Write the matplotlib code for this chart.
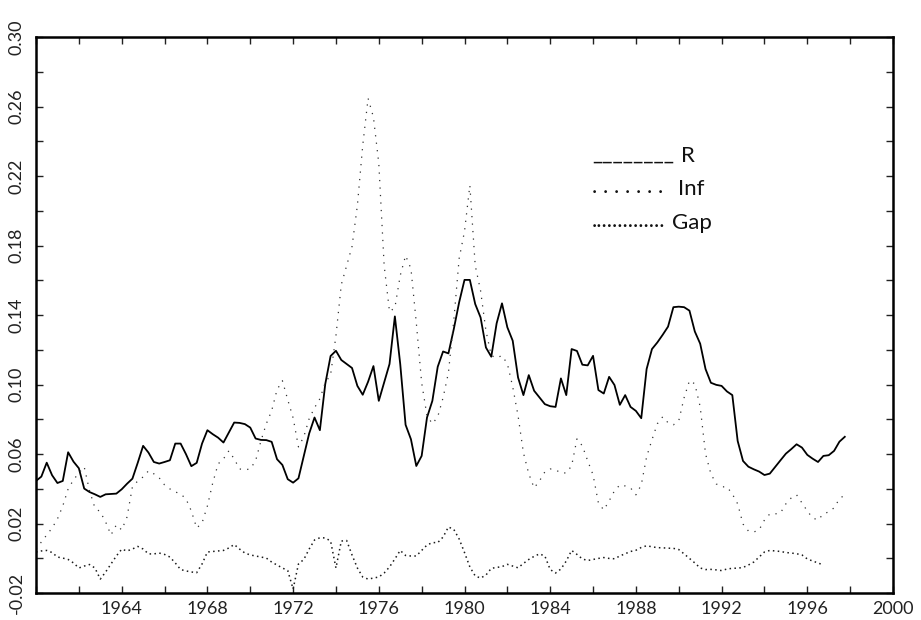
import numpy as np
import matplotlib
matplotlib.use("Agg")
import matplotlib.pyplot as plt
from matplotlib.ticker import FixedLocator

plt.rcParams['font.family'] = ['Lato', 'DejaVu Sans']

# quarterly series, first quarter of 1960 onwards
r_vals = [
    0.0445, 0.0470, 0.0550, 0.0478, 0.0433, 0.0445, 0.0610, 0.0556,
    0.0518, 0.0401, 0.0381, 0.0368, 0.0353, 0.0368, 0.0370, 0.0372,
    0.0397, 0.0429, 0.0458, 0.0550, 0.0647, 0.0608, 0.0554, 0.0545,
    0.0554, 0.0564, 0.0660, 0.0660, 0.0599, 0.0530, 0.0549, 0.0660,
    0.0737, 0.0714, 0.0694, 0.0666, 0.0723, 0.0781, 0.0779, 0.0772,
    0.0752, 0.0689, 0.0681, 0.0680, 0.0670, 0.0570, 0.0537, 0.0455,
    0.0435, 0.0460, 0.0589, 0.0718, 0.0810, 0.0737, 0.1002, 0.1164,
    0.1194, 0.1141, 0.1118, 0.1095, 0.0992, 0.0941, 0.1016, 0.1106,
    0.0906, 0.1012, 0.1118, 0.1392, 0.1118, 0.0768, 0.0685, 0.0531,
    0.0589, 0.0810, 0.0906, 0.1102, 0.1190, 0.1179, 0.1319, 0.1473,
    0.1602, 0.1602, 0.1463, 0.1386, 0.1213, 0.1160, 0.1352, 0.1467,
    0.1329, 0.1252, 0.1040, 0.0939, 0.1054, 0.0964, 0.0925, 0.0887,
    0.0875, 0.0871, 0.1035, 0.0939, 0.1204, 0.1193, 0.1114, 0.1110,
    0.1165, 0.0968, 0.0948, 0.1044, 0.0997, 0.0883, 0.0939, 0.0871,
    0.0848, 0.0806, 0.1089, 0.1204, 0.1242, 0.1286, 0.1333, 0.1445,
    0.1448, 0.1445, 0.1425, 0.1305, 0.1235, 0.1089, 0.1010, 0.0998,
    0.0992, 0.0960, 0.0939, 0.0675, 0.0560, 0.0527, 0.0512, 0.0499,
    0.0479, 0.0487, 0.0526, 0.0564, 0.0602, 0.0628, 0.0656, 0.0637,
    0.0595, 0.0573, 0.0554, 0.0589, 0.0593, 0.0618, 0.0671, 0.0699,
]

inf_vals = [
    0.0053, 0.0094, 0.0134, 0.0174, 0.0226, 0.0301, 0.0399, 0.0451,
    0.0491, 0.0526, 0.0388, 0.0290, 0.0267, 0.0209, 0.0134, 0.0192,
    0.0163, 0.0238, 0.0411, 0.0445, 0.0468, 0.0503, 0.0486, 0.0463,
    0.0422, 0.0399, 0.0382, 0.0370, 0.0342, 0.0272, 0.0174, 0.0203,
    0.0301, 0.0434, 0.0543, 0.0572, 0.0618, 0.0572, 0.0514, 0.0509,
    0.0514, 0.0561, 0.0676, 0.0774, 0.0849, 0.0970, 0.1022, 0.0912,
    0.0808, 0.0641, 0.0699, 0.0803, 0.0866, 0.0918, 0.1010, 0.1056,
    0.1281, 0.1575, 0.1685, 0.1794, 0.2030, 0.2376, 0.2647, 0.2538,
    0.2272, 0.1685, 0.1419, 0.1442, 0.1627, 0.1742, 0.1667, 0.1356,
    0.1010, 0.0820, 0.0774, 0.0814, 0.0924, 0.1068, 0.1368, 0.1725,
    0.1881, 0.2146, 0.1685, 0.1540, 0.1310, 0.1166, 0.1154, 0.1166,
    0.1120, 0.0987, 0.0820, 0.0607, 0.0486, 0.0405, 0.0445, 0.0497,
    0.0514, 0.0509, 0.0491, 0.0491, 0.0532, 0.0687, 0.0647, 0.0561,
    0.0480, 0.0318, 0.0278, 0.0330, 0.0388, 0.0422, 0.0416, 0.0405,
    0.0365, 0.0422, 0.0584, 0.0682, 0.0774, 0.0814, 0.0780, 0.0768,
    0.0791, 0.0924, 0.1022, 0.1004, 0.0872, 0.0601, 0.0486, 0.0428,
    0.0411, 0.0411, 0.0370, 0.0313, 0.0197, 0.0157, 0.0151, 0.0163,
    0.0220, 0.0255, 0.0255, 0.0261, 0.0313, 0.0347, 0.0365, 0.0318,
    0.0272, 0.0232, 0.0220, 0.0255, 0.0267, 0.0290, 0.0342, 0.0365,
]

gap_vals = [
    0.0036, 0.0042, 0.0045, 0.0033, 0.0007, 0.0001, -0.0007, -0.0027,
    -0.0056, -0.0045, -0.0036, -0.0056, -0.0120, -0.0079, -0.0033, 0.0013,
    0.0052, 0.0042, 0.0053, 0.0068, 0.0053, 0.0025, 0.0025, 0.0030,
    0.0022, 0.0007, -0.0027, -0.0065, -0.0073, -0.0079, -0.0083, -0.0033,
    0.0036, 0.0039, 0.0042, 0.0045, 0.0059, 0.0079, 0.0053, 0.0030,
    0.0019, 0.0013, 0.0007, 0.0001, -0.0022, -0.0039, -0.0056, -0.0071,
    -0.0177, -0.0033, -0.0007, 0.0053, 0.0105, 0.0118, 0.0117, 0.0099,
    -0.0056, 0.0099, 0.0102, 0.0019, -0.0056, -0.0108, -0.0120, -0.0114,
    -0.0108, -0.0085, -0.0050, -0.0004, 0.0045, 0.0016, 0.0013, 0.0013,
    0.0045, 0.0076, 0.0090, 0.0090, 0.0122, 0.0180, 0.0166, 0.0111,
    0.0033, -0.0050, -0.0102, -0.0114, -0.0097, -0.0058, -0.0053, -0.0048,
    -0.0035, -0.0045, -0.0055, -0.0030, -0.0007, 0.0011, 0.0025, 0.0013,
    -0.0065, -0.0085, -0.0062, -0.0016, 0.0045, 0.0022, -0.0004, -0.0013,
    -0.0007, -0.0001, 0.0004, -0.0001, -0.0003, 0.0013, 0.0026, 0.0039,
    0.0046, 0.0062, 0.0072, 0.0066, 0.0061, 0.0060, 0.0058, 0.0057,
    0.0050, 0.0025, -0.0001, -0.0027, -0.0056, -0.0065, -0.0064, -0.0067,
    -0.0071, -0.0062, -0.0058, -0.0057, -0.0053, -0.0039, -0.0022, 0.0007,
    0.0036, 0.0045, 0.0042, 0.0039, 0.0033, 0.0030, 0.0026, 0.0019,
    -0.0004, -0.0016, -0.0027, -0.0039,
]

start_year = 1960
x_labels = ['1964', '1968', '1972', '1976', '1980', '1984', '1988', '1992', '1996', '2000']
y_labels = ['-0.02', '0.02', '0.06', '0.10', '0.14', '0.18', '0.22', '0.26', '0.30']
series_names = ['R', 'Inf', 'Gap']


def quarters(vals):
    return start_year + np.arange(len(vals)) / 4.0


fig = plt.figure(figsize=(9.21, 6.20), dpi=100)
ax = fig.add_axes([36 / 921, 1 - 593 / 620, 857 / 921, 556 / 620])

ax.plot(quarters(r_vals), r_vals, color='black', lw=1.3)
ax.plot(quarters(inf_vals), inf_vals, color='#333333', lw=0.9,
        linestyle=(0, (1, 5)))
ax.plot(quarters(gap_vals), gap_vals, color='#1a1a1a', lw=1.1,
        linestyle=(0, (1, 2.2)))

ax.set_xlim(1960, 2000)
ax.set_ylim(-0.02, 0.30)

xt = [float(s) for s in x_labels]
yt = [float(s) for s in y_labels]
ax.set_xticks(xt)
ax.set_xticklabels(x_labels)
ax.xaxis.set_minor_locator(FixedLocator(np.arange(1960, 2001, 2)))
ax.set_yticks(yt)
ax.set_yticklabels(y_labels, rotation=90, va='center')
ax.yaxis.set_minor_locator(FixedLocator(np.arange(-0.02, 0.301, 0.02)))

ax.tick_params(which='both', direction='in', top=True, right=True,
               length=5, width=1.0, color='#222222')
ax.tick_params(axis='x', which='major', labelsize=13, pad=6, labelcolor='#222222')
ax.tick_params(axis='y', which='major', labelsize=13, pad=8, labelcolor='#222222')

for s in ax.spines.values():
    s.set_linewidth(1.8)

# legend written as text, like the original
leg_kw = dict(fontsize=16, color='#111111', va='baseline')
samples = ['________', '. . . . . . .', '..............']
sample_y = [160, 193, 227]
name_x = [681, 678, 672]
for smp, name, yy, nx in zip(samples, series_names, sample_y, name_x):
    fig.text(592 / 921, 1 - yy / 620, smp, **leg_kw)
    fig.text(nx / 921, 1 - (yy + 2) / 620, name, **leg_kw)

fig.savefig('out.png', dpi=100)
